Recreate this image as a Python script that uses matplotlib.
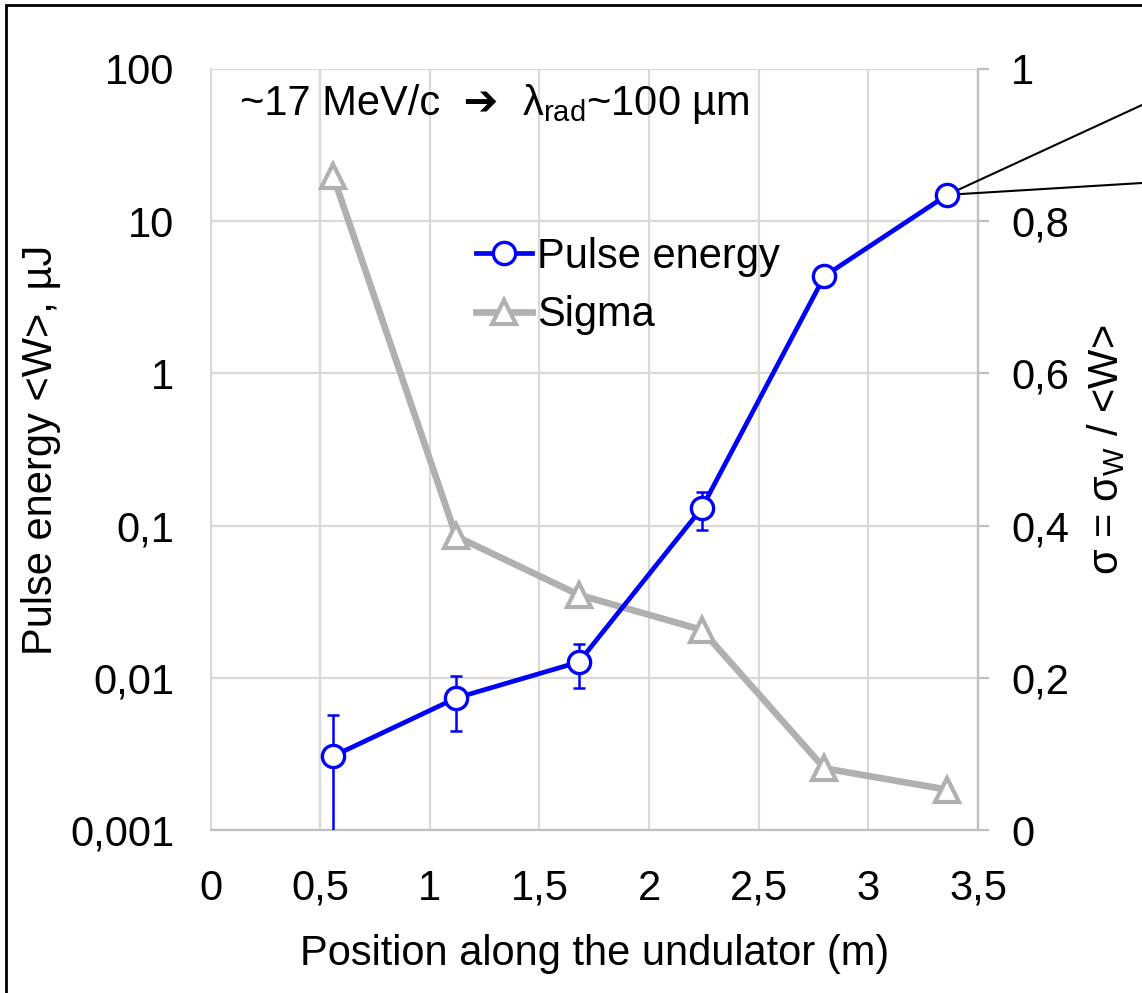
import numpy as np
import matplotlib
matplotlib.use("Agg")
import matplotlib.pyplot as plt
import matplotlib.patches as patches
from matplotlib.ticker import FixedLocator, FuncFormatter

plt.rcParams['font.family'] = ['Liberation Sans', 'DejaVu Sans']
plt.rcParams['mathtext.fontset'] = 'custom'
plt.rcParams['mathtext.rm'] = 'Liberation Sans'
plt.rcParams['mathtext.default'] = 'regular'

# data
position = [0.56, 1.12, 1.68, 2.24, 2.80, 3.36]
pulse_energy = [0.00306, 0.00736, 0.0127, 0.13, 4.36, 14.9]
pulse_err = [0.0026, 0.0029, 0.0041, 0.036, 0.0, 0.0]
sigma = [0.859, 0.386, 0.309, 0.263, 0.081, 0.053]

x_ticks = [0, 0.5, 1, 1.5, 2, 2.5, 3, 3.5]
energy_ticks = [0.001, 0.01, 0.1, 1, 10, 100]
sigma_ticks = [0, 0.2, 0.4, 0.6, 0.8, 1.0]

BLUE = '#0000ff'
GRAY = '#b0b1ae'
GRID = '#d9d9d9'
FS = 30


def comma(v, pos=None):
    s = ('%.3f' % v).rstrip('0').rstrip('.')
    return s.replace('.', ',')


fig = plt.figure(figsize=(11.42, 9.93), dpi=100)
ax = fig.add_axes([210.5 / 1142, 1 - 830 / 993, 767.5 / 1142, 761 / 993])
ax2 = ax.twinx()

# gray sigma series on the base axes (right scale)
ax.plot(position, sigma, color=GRAY, lw=4.8, marker='^', ms=17,
        mfc='white', mec=GRAY, mew=3, label='Sigma', zorder=3)
ax.set_xlim(0, 3.5)
ax.set_ylim(0, 1)
ax.yaxis.tick_right()
ax.yaxis.set_label_position('right')
ax.xaxis.set_major_locator(FixedLocator(x_ticks))
ax.yaxis.set_major_locator(FixedLocator(sigma_ticks))
ax.xaxis.set_major_formatter(FuncFormatter(comma))
ax.yaxis.set_major_formatter(FuncFormatter(comma))
ax.grid(True, color=GRID, lw=1.6)
ax.set_axisbelow(True)
ax.tick_params(axis='x', length=0, pad=28, labelsize=FS)
ax.tick_params(axis='y', right=True, left=False, labelright=True, labelleft=False,
               length=8, width=1.6, color='#bfbfbf', pad=16, labelsize=FS)
ax.spines['top'].set_visible(False)
ax.spines['left'].set_color(GRID)
ax.spines['left'].set_linewidth(1.6)
ax.spines['bottom'].set_color('#bfbfbf')
ax.spines['bottom'].set_linewidth(1.6)
ax.spines['right'].set_color('#bfbfbf')
ax.spines['right'].set_linewidth(1.6)
ax.set_xlabel('Position along the undulator (m)', fontsize=FS, labelpad=18)
ax.set_ylabel(r'σ = σ$_{W}$ / <W>', fontsize=FS, rotation=90)
ax.yaxis.set_label_coords(1.14, 0.5)

# blue pulse energy on the twin axes (left, log scale)
ax2.set_yscale('log')
ax2.set_ylim(0.001, 100)
ax2.errorbar(position, pulse_energy, yerr=pulse_err, fmt='none',
             ecolor=BLUE, elinewidth=1.8, capsize=4, capthick=1.8, zorder=4)
ax2.plot(position, pulse_energy, color=BLUE, lw=3.4, marker='o', ms=16,
         mfc='white', mec=BLUE, mew=2.4, label='Pulse energy', zorder=5)
ax2.yaxis.tick_left()
ax2.yaxis.set_label_position('left')
ax2.yaxis.set_major_locator(FixedLocator(energy_ticks))
ax2.yaxis.set_minor_locator(FixedLocator([]))
ax2.yaxis.set_major_formatter(FuncFormatter(comma))
ax2.tick_params(axis='y', left=True, right=False, labelleft=True, labelright=False,
                length=0, pad=26, labelsize=FS)
for s in ax2.spines.values():
    s.set_visible(False)
ax2.set_ylabel('Pulse energy <W>, µJ', fontsize=FS)
ax2.yaxis.set_label_coords(-0.195, 0.5)

# legend
h1, l1 = ax2.get_legend_handles_labels()
h2, l2 = ax.get_legend_handles_labels()
ax2.legend(h1 + h2, l1 + l2, loc='center left', bbox_to_anchor=(0.346, 0.715),
           frameon=False, fontsize=FS, handlelength=1.35, handletextpad=0.12,
           labelspacing=0.45, borderpad=0, borderaxespad=0)

# header note: plain part (arrow needs DejaVu fallback) + mathtext part
t1 = ax2.text(0.039, 0.94, '~17 MeV/c  ➔  ', transform=ax2.transAxes,
              fontsize=FS, va='baseline', ha='left')
ax2.annotate(r'λ$_{rad}$~100 µm', xy=(1, 0.94), xycoords=(t1, ax2.transAxes),
             fontsize=FS, va='baseline', ha='left')

# callout lines running off the right edge
for fy in [1 - 105 / 993, 1 - 183 / 993]:
    ax2.annotate('', xy=(position[-1], pulse_energy[-1]), xycoords='data',
                 xytext=(1.0, fy), textcoords='figure fraction',
                 arrowprops=dict(arrowstyle='-', color='black', lw=1.5,
                                 shrinkA=0, shrinkB=7), annotation_clip=False)

# outer frame (cut off at right and bottom)
fig.patches.append(patches.Rectangle((6 / 1142, -0.1), 2, 1.1 - 5 / 993,
                                     transform=fig.transFigure, fill=False,
                                     ec='black', lw=2))

fig.savefig('out.png', dpi=100)
